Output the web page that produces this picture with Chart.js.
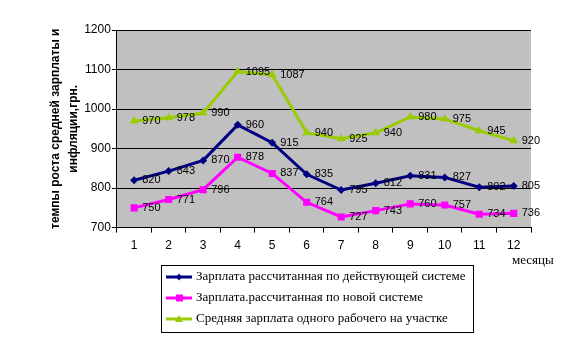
<!DOCTYPE html>
<html>
<head>
<meta charset="utf-8">
<script src="https://cdn.jsdelivr.net/npm/chart.js@4.4.0/dist/chart.umd.min.js"></script>
<style>
    html, body { margin: 0; padding: 0; background: #fff; }
    #wrap { width: 566px; height: 344px; }
</style>
</head>
<body>
<div id="wrap"><canvas id="chart" width="566" height="344"></canvas></div>
<script>
let months = ['1', '2', '3', '4', '5', '6', '7', '8', '9', '10', '11', '12'];
let zpCurrent = [820, 843, 870, 960, 915, 835, 795, 812, 831, 827, 802, 805];
let zpNew = [750, 771, 796, 878, 837, 764, 727, 743, 760, 757, 734, 736];
let zpAverage = [970, 978, 990, 1095, 1087, 940, 925, 940, 980, 975, 945, 920];
let seriesNames = [
    'Зарплата рассчитанная по действующей системе',
    'Зарплата.рассчитанная по новой системе',
    'Средняя зарплата одного рабочего на участке'
];

// серый фон области построения
const plotBg = {
    id: 'plotBg',
    beforeDraw(chart) {
        const { ctx, chartArea: a } = chart;
        ctx.save();
        ctx.fillStyle = '#c0c0c0';
        ctx.fillRect(a.left, a.top, a.right - a.left, a.bottom - a.top);
        ctx.restore();
    }
};

// подписи значений справа от точек
const valueLabels = {
    id: 'valueLabels',
    afterDatasetsDraw(chart) {
        const ctx = chart.ctx;
        ctx.save();
        ctx.font = '11px "Liberation Sans", Arial, sans-serif';
        ctx.fillStyle = '#000';
        ctx.textAlign = 'left';
        ctx.textBaseline = 'middle';
        chart.data.datasets.forEach((ds, i) => {
            chart.getDatasetMeta(i).data.forEach((pt, j) => {
                ctx.fillText(ds.data[j], pt.x + 8, pt.y);
            });
        });
        ctx.restore();
    }
};

// легенда в рамке под графиком и подпись оси X
const boxLegend = {
    id: 'boxLegend',
    afterDraw(chart) {
        const ctx = chart.ctx;
        ctx.save();
        ctx.fillStyle = '#fff';
        ctx.fillRect(161.5, 265.5, 312, 67);
        ctx.strokeStyle = '#000';
        ctx.lineWidth = 1;
        ctx.strokeRect(161.5, 265.5, 312, 67);

        ctx.font = '13px "Liberation Serif", "Times New Roman", serif';
        ctx.textBaseline = 'middle';
        ctx.textAlign = 'left';
        chart.data.datasets.forEach((ds, i) => {
            const y = 277 + i * 21;
            ctx.strokeStyle = ds.borderColor;
            ctx.lineWidth = 3;
            ctx.beginPath();
            ctx.moveTo(166, y);
            ctx.lineTo(192, y);
            ctx.stroke();
            ctx.fillStyle = ds.borderColor;
            ctx.beginPath();
            if (ds.pointStyle === 'rect') {
                ctx.fillRect(176, y - 3.5, 7, 7);
            } else if (ds.pointStyle === 'triangle') {
                ctx.moveTo(179, y - 4);
                ctx.lineTo(183, y + 3);
                ctx.lineTo(175, y + 3);
                ctx.closePath();
                ctx.fill();
            } else {
                ctx.moveTo(179, y - 3.5);
                ctx.lineTo(182, y);
                ctx.lineTo(179, y + 3.5);
                ctx.lineTo(176, y);
                ctx.closePath();
                ctx.fill();
            }
            ctx.fillStyle = '#000';
            ctx.fillText(ds.label, 196, y);
        });

        ctx.font = '13px "Liberation Serif", "Times New Roman", serif';
        ctx.fillText('месяцы', 512, 261);
        ctx.restore();
    }
};

document.addEventListener('DOMContentLoaded', function () {
    const ctx = document.getElementById('chart');

    new Chart(ctx, {
        type: 'line',
        data: {
            labels: months,
            datasets: [
                {
                    label: seriesNames[0],
                    data: zpCurrent,
                    borderColor: '#000080',
                    backgroundColor: '#000080',
                    borderWidth: 3,
                    pointStyle: 'rectRot',
                    pointRadius: 4,
                    pointBorderWidth: 0
                },
                {
                    label: seriesNames[1],
                    data: zpNew,
                    borderColor: '#ff00ff',
                    backgroundColor: '#ff00ff',
                    borderWidth: 3,
                    pointStyle: 'rect',
                    pointRadius: 5,
                    pointBorderWidth: 0
                },
                {
                    label: seriesNames[2],
                    data: zpAverage,
                    borderColor: '#99cc00',
                    backgroundColor: '#99cc00',
                    borderWidth: 3,
                    pointStyle: 'triangle',
                    pointRadius: 5,
                    pointBorderWidth: 0
                }
            ]
        },
        options: {
            responsive: false,
            animation: false,
            layout: {
                padding: { left: 42, right: 35, top: 30, bottom: 85 }
            },
            plugins: {
                legend: { display: false },
                tooltip: { enabled: false }
            },
            scales: {
                x: {
                    offset: true,
                    grid: {
                        offset: true,
                        drawOnChartArea: false,
                        color: '#000',
                        tickLength: 5
                    },
                    border: { color: '#000' },
                    ticks: {
                        color: '#000',
                        padding: 6,
                        maxRotation: 0,
                        font: { family: '"Liberation Sans", Arial, sans-serif', size: 12 }
                    }
                },
                y: {
                    min: 700,
                    max: 1200,
                    grid: {
                        color: '#000',
                        tickLength: 5
                    },
                    border: { color: '#000' },
                    ticks: {
                        stepSize: 100,
                        color: '#000',
                        padding: 1,
                        callback: (v) => String(v),
                        font: { family: '"Liberation Sans", Arial, sans-serif', size: 12 }
                    },
                    title: {
                        display: true,
                        text: ['темпы роста средней зарплаты и', 'инфляции,грн.'],
                        color: '#000',
                        padding: { top: 4, bottom: 0 },
                        font: { family: '"Liberation Sans", Arial, sans-serif', size: 12, weight: 'bold', lineHeight: 1.55 }
                    }
                }
            }
        },
        plugins: [plotBg, valueLabels, boxLegend]
    });
});
</script>
</body>
</html>
